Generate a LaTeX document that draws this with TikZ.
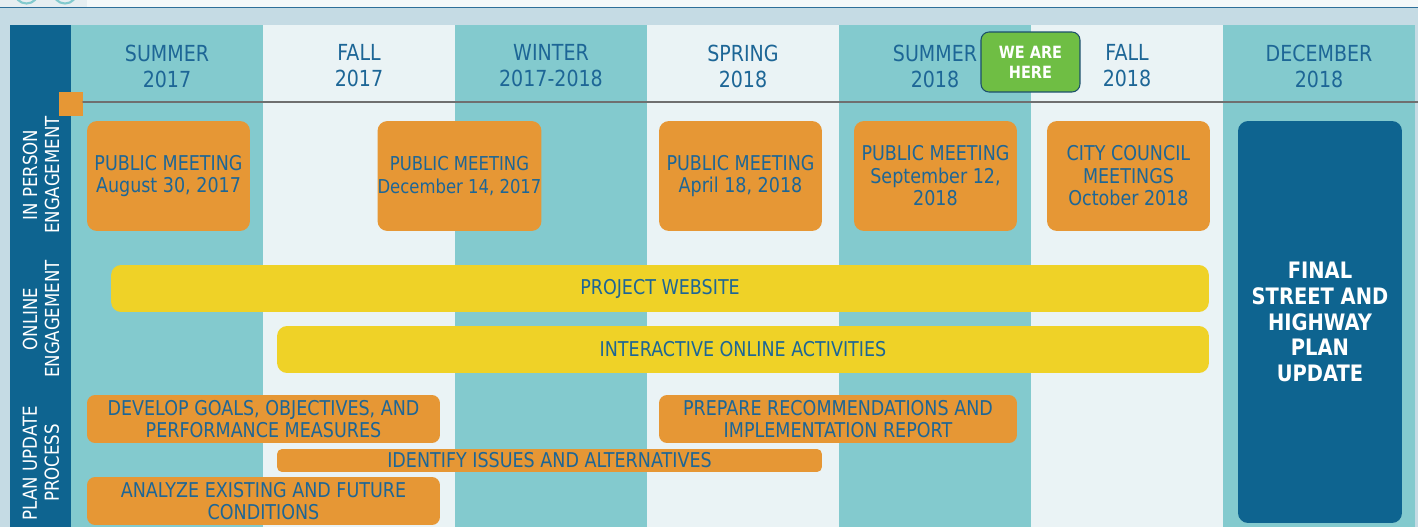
\documentclass[tikz,border=0pt]{standalone}
\usepackage{fontspec}
\setmainfont[FakeStretch=0.86]{DejaVu Sans}
\definecolor{tealcol}{HTML}{83CACE}
\definecolor{lightcol}{HTML}{EAF3F5}
\definecolor{bandgray}{HTML}{C5DBE4}
\definecolor{topwhite}{HTML}{F4F8F9}
\definecolor{topgray}{HTML}{E6EEF1}
\definecolor{lineblue}{HTML}{2E6F99}
\definecolor{navy}{HTML}{0E6490}
\definecolor{txtblue}{HTML}{1D6696}
\definecolor{orangebox}{HTML}{E69735}
\definecolor{yellowbar}{HTML}{EFD227}
\definecolor{herebadge}{HTML}{6FBE44}
\definecolor{herebord}{HTML}{1B4F6B}
\definecolor{timegray}{HTML}{6F6F6F}

\begin{document}
\begin{tikzpicture}[x=0.02cm, y=-0.02cm, line cap=round, line join=round,
	season/.style={align=center, text=txtblue, font=\fontsize{12.6}{14.8}\selectfont},
	meeting/.style={fill=orangebox, rounded corners=0.2cm, text=txtblue, align=center,
		inner sep=0pt, font=\fontsize{11.6}{12.8}\selectfont,
		minimum width=3.26cm, minimum height=2.2cm},
	bar/.style={rounded corners=0.16cm, text=txtblue, align=center, inner sep=0pt,
		font=\fontsize{11.6}{13}\selectfont},
	rowlabel/.style={rotate=90, align=center, text=white, font=\fontsize{11}{12.5}\selectfont}]
	
	\useasboundingbox (0,0) rectangle (1418,527);
	
	%========================
	% frame
	%========================
	\fill[bandgray] (0,0) rectangle (1418,527);
	\fill[topwhite] (0,0) rectangle (1418,7.5);
	\fill[topgray] (0,0) rectangle (87,7.5);
	\begin{scope}
		\clip (0,0) rectangle (1418,7);
		\draw[tealcol, line width=1.2pt] (26.5,-8.5) circle (0.24cm);
		\draw[tealcol, line width=1.2pt] (65,-8.5) circle (0.24cm);
	\end{scope}
	\draw[lineblue, line width=0.7pt] (0,7.5) -- (1418,7.5);
	
	% row label column
	\fill[navy] (10,25) rectangle (71,527);
	\node[rowlabel] (inperson) at (41,175) {IN PERSON\\ENGAGEMENT};
	\node[rowlabel] (online) at (41,319) {ONLINE\\ENGAGEMENT};
	\node[rowlabel] (planupdate) at (41,463) {PLAN UPDATE\\PROCESS};
	
	%========================
	% season columns
	%========================
	\fill[tealcol] (71,25) rectangle (263,527);
	\fill[lightcol] (263,25) rectangle (455,527);
	\fill[tealcol] (455,25) rectangle (647,527);
	\fill[lightcol] (647,25) rectangle (839,527);
	\fill[tealcol] (839,25) rectangle (1031,527);
	\fill[lightcol] (1031,25) rectangle (1223,527);
	\fill[tealcol] (1223,25) rectangle (1415,527);
	
	\node[season] (summer17) at (167,66) {SUMMER\\2017};
	\node[season] (fall17) at (359,66) {FALL\\2017};
	\node[season] (winter) at (551,66) {WINTER\\2017-2018};
	\node[season] (spring18) at (743,66) {SPRING\\2018};
	\node[season] (summer18) at (935,66) {SUMMER\\2018};
	\node[season] (fall18) at (1127,66) {FALL\\2018};
	\node[season] (december) at (1319,66) {DECEMBER\\2018};
	
	% we are here
	\node[fill=herebadge, draw=herebord, line width=0.6pt, rounded corners=0.16cm,
	minimum width=1.98cm, minimum height=1.2cm, inner sep=0pt, align=center, text=white,
	font=\bfseries\fontsize{9.6}{11.4}\selectfont] (here) at (1030.5,62) {WE ARE\\HERE};
	
	% timeline
	\node[fill=orangebox, minimum size=0.48cm, inner sep=0pt] (marker) at (71,104) {};
	\coordinate (lineend) at (1418,102);
	\draw[timegray, line width=1.6pt] (marker.east |- lineend) -- (lineend);
	
	%========================
	% in person engagement
	%========================
	\node[meeting] (meet1) at (168.5,176) {PUBLIC MEETING\\August 30, 2017};
	\node[meeting, font=\fontsize{10.9}{12.8}\selectfont] (meet2) at (459.5,176)
	{PUBLIC MEETING\\December 14, 2017};
	\node[meeting] (meet3) at (740.5,176) {PUBLIC MEETING\\April 18, 2018};
	\node[meeting] (meet4) at (935.5,176) {PUBLIC MEETING\\September 12,\\2018};
	\node[meeting] (council) at (1128.5,176) {CITY COUNCIL\\MEETINGS\\October 2018};
	
	% final plan
	\node[fill=navy, rounded corners=0.2cm, minimum width=3.28cm, minimum height=8.04cm,
	inner sep=0pt, align=center, text=white,
	font=\bfseries\fontsize{12.9}{14.6}\selectfont] (final) at (1320,322)
	{FINAL\\STREET AND\\HIGHWAY\\PLAN\\UPDATE};
	
	%========================
	% online engagement
	%========================
	\node[bar, fill=yellowbar, rounded corners=0.2cm, minimum width=21.96cm, minimum height=0.94cm]
	(website) at (660,288.5) {PROJECT WEBSITE};
	\node[bar, fill=yellowbar, rounded corners=0.2cm, minimum width=18.64cm, minimum height=0.94cm]
	(interactive) at (743,349.5) {INTERACTIVE ONLINE ACTIVITIES};
	
	%========================
	% plan update process
	%========================
	\node[bar, fill=orangebox, minimum width=7.06cm, minimum height=0.96cm] (goals) at (263.5,419)
	{DEVELOP GOALS, OBJECTIVES, AND\\PERFORMANCE MEASURES};
	\node[bar, fill=orangebox, minimum width=7.16cm, minimum height=0.96cm] (recommend) at (838,419)
	{PREPARE RECOMMENDATIONS AND\\IMPLEMENTATION REPORT};
	\node[bar, fill=orangebox, rounded corners=0.1cm, minimum width=10.9cm, minimum height=0.46cm]
	(issues) at (549.5,460.5) {IDENTIFY ISSUES AND ALTERNATIVES};
	\node[bar, fill=orangebox, minimum width=7.06cm, minimum height=0.96cm] (analyze) at (263.5,501)
	{ANALYZE EXISTING AND FUTURE\\CONDITIONS};
	
\end{tikzpicture}
\end{document}
